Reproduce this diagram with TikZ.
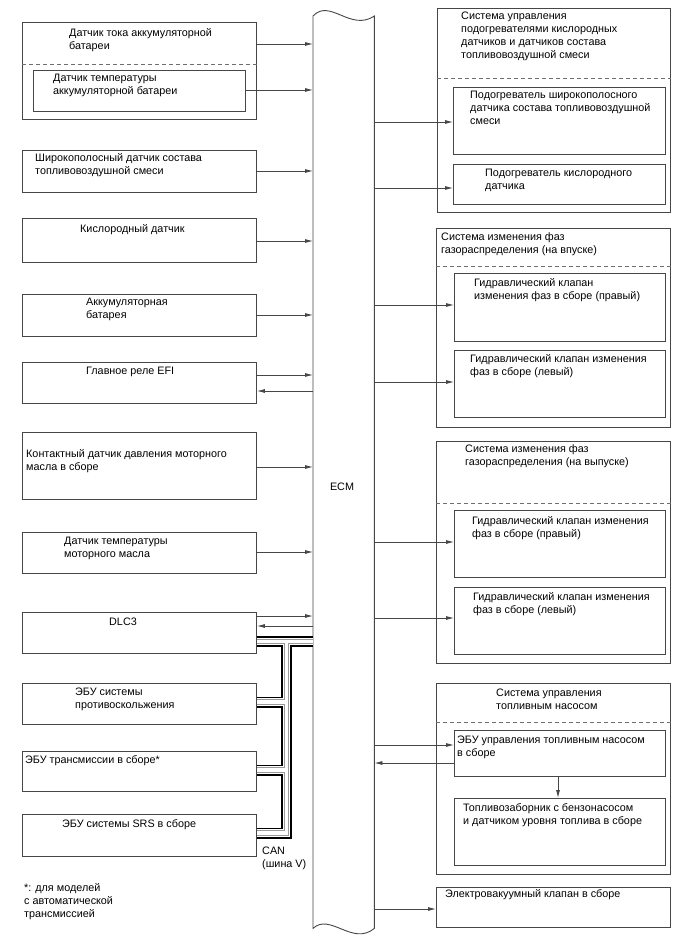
\documentclass[tikz,border=0pt]{standalone}
\usepackage{fontspec}
\setmainfont{Liberation Sans}
\usetikzlibrary{arrows.meta,positioning}
\definecolor{linegray}{RGB}{70,70,70}
\definecolor{dashgray}{RGB}{110,110,110}

\begin{document}
\begin{tikzpicture}[x=1pt, y=-1pt,
    box/.style={rectangle, draw=linegray, line width=0.9pt, anchor=north west, inner sep=0pt},
    txt/.style={anchor=north west, inner sep=0pt, yshift=-1.5pt, align=left, font=\fontsize{10.8}{13}\selectfont},
    sep/.style={draw=dashgray, line width=0.8pt, dash pattern=on 4pt off 3pt},
    arrow/.style={-{Latex[length=8pt,width=4pt]}, draw=linegray, line width=0.8pt},
    canbus/.style={draw=black, line width=11pt, line join=miter,
                   postaction={draw=white, line width=7.5pt},
                   postaction={draw=black!40, line width=5.5pt},
                   postaction={draw=white, line width=3.5pt}}
]
\useasboundingbox (0,0) rectangle (688,949);

% ECM
\node[minimum width=61, minimum height=912, anchor=north west, inner sep=0pt] (ecm) at (313,16) {};
\draw[draw=linegray, line width=0.9pt] (ecm.north west) .. controls +(17,-18) and +(-24,16) .. (ecm.north east)
    -- (ecm.south east) .. controls +(-22,18) and +(17,-16) .. (ecm.south west) -- cycle;
\node[txt, anchor=center, yshift=1.5pt] (ecm-t) at (342,487) {ECM};

% left column
\node[box, minimum width=234, minimum height=97] (bcs) at (22,22) {};
\node[box, minimum width=212, minimum height=41] (bts) at (33,70) {};
\node[box, minimum width=234, minimum height=42] (afs) at (22,150) {};
\node[box, minimum width=234, minimum height=44] (o2s) at (22,218) {};
\node[box, minimum width=234, minimum height=42] (batt) at (22,294) {};
\node[box, minimum width=234, minimum height=41] (efi) at (22,362) {};
\node[box, minimum width=234, minimum height=67] (ops) at (22,432) {};
\node[box, minimum width=234, minimum height=41] (oilt) at (22,532) {};
\node[box, minimum width=234, minimum height=41] (dlc) at (22,612) {};
\node[box, minimum width=234, minimum height=41] (abs) at (22,683) {};
\node[box, minimum width=234, minimum height=40] (tcm) at (22,751) {};
\node[box, minimum width=234, minimum height=42] (srs) at (22,814) {};
\draw[sep] (bcs.west |- 0,64) -- (bcs.east |- 0,64);

\node[txt] (bcs-t) at (69,26.5) {Датчик тока аккумуляторной\\батареи};
\node[txt] (bts-t) at (53,72.5) {Датчик температуры\\аккумуляторной батареи};
\node[txt] (afs-t) at (35,151.5) {Широкополосный датчик состава\\топливовоздушной смеси};
\node[txt] (o2s-t) at (80,222.5) {Кислородный датчик};
\node[txt] (batt-t) at (86,296.5) {Аккумуляторная\\батарея};
\node[txt] (efi-t) at (86,365.5) {Главное реле EFI};
\node[txt] (ops-t) at (26,447.5) {Контактный датчик давления моторного\\масла в сборе};
\node[txt] (oilt-t) at (64,535.5) {Датчик температуры\\моторного масла};
\node[txt] (dlc-t) at (109,616.5) {DLC3};
\node[txt] (abs-t) at (75,686.5) {ЭБУ системы\\противоскольжения};
\node[txt] (tcm-t) at (25,753.5) {ЭБУ трансмиссии в сборе*};
\node[txt] (srs-t) at (62,817.5) {ЭБУ системы SRS в сборе};
\node[txt] (can-t) at (262,845.5) {CAN\\(шина V)};
\node[txt] (note-t) at (24,881.5) {*: для моделей\\с автоматической\\трансмиссией};

% right column
\node[box, minimum width=233, minimum height=204] (htr) at (437,8) {};
\node[box, minimum width=212, minimum height=67] (htrw) at (453,87) {};
\node[box, minimum width=212, minimum height=40] (htro) at (453,164) {};
\node[box, minimum width=234, minimum height=199] (vvti) at (436,228) {};
\node[box, minimum width=211, minimum height=68] (vvtiR) at (454,273) {};
\node[box, minimum width=211, minimum height=67] (vvtiL) at (454,350) {};
\node[box, minimum width=234, minimum height=222] (vvte) at (436,441) {};
\node[box, minimum width=211, minimum height=67] (vvteR) at (454,510) {};
\node[box, minimum width=211, minimum height=67] (vvteL) at (454,587) {};
\node[box, minimum width=234, minimum height=191] (fps) at (436,683) {};
\node[box, minimum width=211, minimum height=46] (fpecu) at (454,730) {};
\node[box, minimum width=211, minimum height=67] (pump) at (454,798) {};
\node[box, minimum width=234, minimum height=40] (evsv) at (436,887) {};
\draw[sep] (htr.west |- 0,78) -- (htr.east |- 0,78);
\draw[sep] (vvti.west |- 0,266) -- (vvti.east |- 0,266);
\draw[sep] (vvte.west |- 0,503) -- (vvte.east |- 0,503);
\draw[sep] (fps.west |- 0,722) -- (fps.east |- 0,722);

\node[txt] (htr-t) at (461,10.5) {Система управления\\подогревателями кислородных\\датчиков и датчиков состава\\топливовоздушной смеси};
\node[txt] (htrw-t) at (470,89.5) {Подогреватель широкополосного\\датчика состава топливовоздушной\\смеси};
\node[txt] (htro-t) at (485,167.5) {Подогреватель кислородного\\датчика};
\node[txt] (vvti-t) at (441,230.5) {Система изменения фаз\\газораспределения (на впуске)};
\node[txt] (vvtiR-t) at (474,276.5) {Гидравлический клапан\\изменения фаз в сборе (правый)};
\node[txt] (vvtiL-t) at (470,352.5) {Гидравлический клапан изменения\\фаз в сборе (левый)};
\node[txt] (vvte-t) at (465,442.5) {Система изменения фаз\\газораспределения (на выпуске)};
\node[txt] (vvteR-t) at (472,514.5) {Гидравлический клапан изменения\\фаз в сборе (правый)};
\node[txt] (vvteL-t) at (473,590.5) {Гидравлический клапан изменения\\фаз в сборе (левый)};
\node[txt] (fps-t) at (496,687.5) {Система управления\\топливным насосом};
\node[txt] (fpecu-t) at (457,734.5) {ЭБУ управления топливным насосом\\в сборе};
\node[txt] (pump-t) at (463,801.5) {Топливозаборник с бензонасосом\\и датчиком уровня топлива в сборе};
\node[txt] (evsv-t) at (445,887.5) {Электровакуумный клапан в сборе};

% signals to ECM
\draw[arrow] (bcs.east |- 0,44) -- (ecm.west |- 0,44);
\draw[arrow] (bts.east |- 0,90) -- (ecm.west |- 0,90);
\draw[arrow] (afs.east |- 0,171) -- (ecm.west |- 0,171);
\draw[arrow] (o2s.east |- 0,241) -- (ecm.west |- 0,241);
\draw[arrow] (batt.east |- 0,315) -- (ecm.west |- 0,315);
\draw[arrow] (efi.east |- 0,375) -- (ecm.west |- 0,375);
\draw[arrow] (ecm.west |- 0,391) -- (efi.east |- 0,391);
\draw[arrow] (ops.east |- 0,467) -- (ecm.west |- 0,467);
\draw[arrow] (oilt.east |- 0,552) -- (ecm.west |- 0,552);
\draw[arrow] (dlc.east |- 0,616) -- (ecm.west |- 0,616);
\draw[arrow] (ecm.west |- 0,626) -- (dlc.east |- 0,626);

% signals from ECM
\draw[arrow] (ecm.east |- 0,122) -- (htrw.west |- 0,122);
\draw[arrow] (ecm.east |- 0,188) -- (htro.west |- 0,188);
\draw[arrow] (ecm.east |- 0,305) -- (vvtiR.west |- 0,305);
\draw[arrow] (ecm.east |- 0,382) -- (vvtiL.west |- 0,382);
\draw[arrow] (ecm.east |- 0,542) -- (vvteR.west |- 0,542);
\draw[arrow] (ecm.east |- 0,618) -- (vvteL.west |- 0,618);
\draw[arrow] (ecm.east |- 0,745) -- (fpecu.west |- 0,745);
\draw[arrow] (fpecu.west |- 0,763) -- (ecm.east |- 0,763);
\draw[arrow] (fpecu.south -| 558,0) -- (pump.north -| 558,0);
\draw[arrow] (ecm.east |- 0,909) -- (evsv.west |- 0,909);

% CAN bus
\coordinate (canTop) at (286.5,641.5);
\coordinate (canBot) at (286.5,833);
\draw[canbus] (dlc.east |- canTop) -- (ecm.west |- canTop)
    (canTop) -- (canBot) -- (srs.east |- canBot)
    (abs.east |- 0,702) -- (canTop |- 0,702)
    (tcm.east |- 0,770) -- (canTop |- 0,770);

\end{tikzpicture}
\end{document}
